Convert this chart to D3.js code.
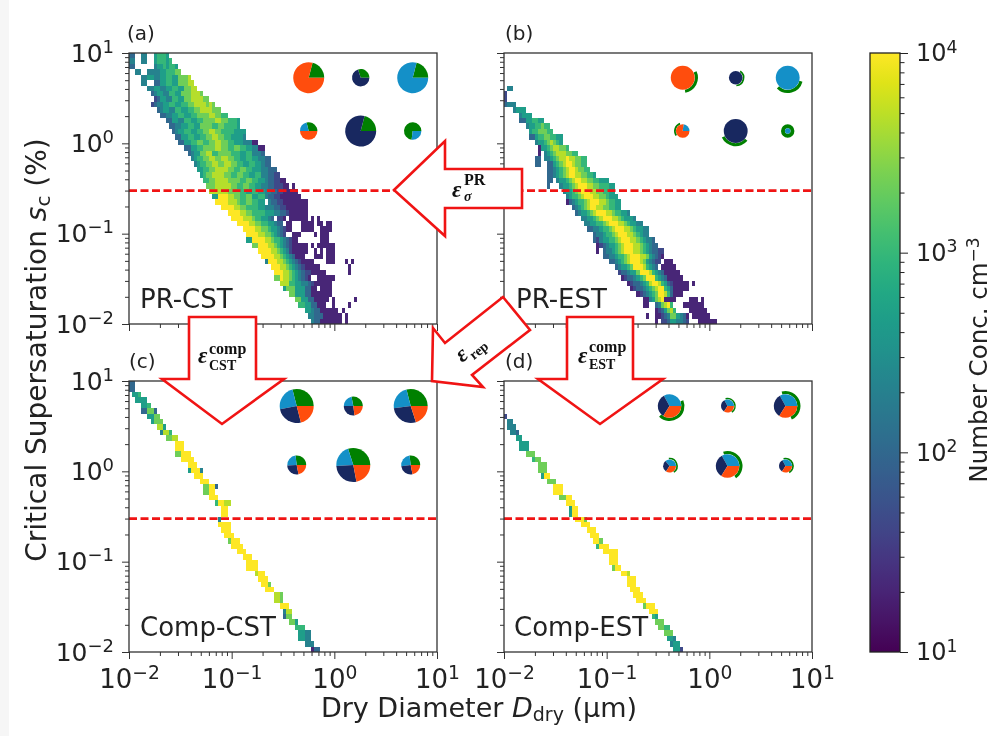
<!DOCTYPE html>
<html>
<head>
<meta charset="utf-8">
<script src="https://cdn.jsdelivr.net/npm/d3@7"></script>
<style>
html, body { margin: 0; padding: 0; background: #fff; }
text { font-family: "DejaVu Sans", sans-serif; fill: #222; }
</style>
</head>
<body>
<script>
// heat map cells. each row (top = 10%) is a list of "firstBin:levels"
// level 0-9 is an index into concLevels
var concLevels = [10, 21, 46, 100, 215, 464, 1000, 2150, 4640, 10000];

var rowsA = [
"0:33 4:44 8:56665",
"0:44 4:44 8:566656",
"0:33 8:45565665",
"2:44 6:44 8:445566677",
"4:4455445566557778",
"4:44 8:3355665577788",
"6:4455445566557788",
"7:34554466557778887",
"8:235544665577888877",
"7:234455665566778888787",
"9:345544665566778888777",
"10:3344556655667777887766",
"12:335544665566777788776665",
"13:33445566557777667766665",
"14:345566556677887766665555",
"15:33556655667788776655554",
"16:33556677667788776655544411",
"18:33556677778877667766554411",
"19:3455778866777766655664443",
"20:45667788778877665566554433",
"21:4566778877887766556655433",
"22:55667788887766776655544333",
"23:56778888776677665566443322",
"24:667788887777667766554332211",
"25:777888887766776655443322211 53:1",
"26:88888877776655665544332211111",
"27:55999887766775566433221111111",
"28:9999888766776655 45:4332211111111",
"30:9999887766665544433221111111",
"32:99998877666655544332111111",
"33:99998887665543 48:221 52:111111 59:1 61:1",
"35:999988776655433 51:11 56:11 58:11 61:11 64:11",
"37:99998877655432 51:11 56:1111 62:11 64:11",
"38:9999887765432 53:11 55:1 60:1 62:111",
"38:55 40:99998876654321 54:1 62:111",
"40:77 42:9998876543 52:211111 59:1 61:111 64:111",
"42:9999887654 52:211111 60:1 62:1 64:111",
"43:99998876543 54:111 60:111 64:111",
"44:4 45:99988765432 56:1111 64:111 70:1 72:1",
"46:999887654321 58:1111 71:1",
"47:99988765432211111 71:1",
"47:77 49:9887654321 61:111 64:111",
"49:888665544321111 64:11",
"50:5 51:777 54:555 57:33 59:11 62:11 64:11",
"52:77 54:555 57:33 59:11111 64:11",
"54:77 56:555 58:33 60:11111 66:1 73:1",
"55:66 57:55 59:33 61:111 66:1 71:1",
"57:55 59:4 60:33 62:111111 69:1",
"58:44 60:333 63:111111 70:1",
"59:433 62:1111111 70:1"
];

var rowsB = [
"", "", "", "", "", "",
"1:44",
"0:2",
"0:2",
"0:3444",
"3:4555",
"5:4555",
"5:33 7:556655",
"7:4 8:5566766",
"8:56677766",
"8:33 10:566776655",
"10:455678765",
"11:1 12:556788776",
"11:1 13:45678887766",
"10:33 13:44567889887766",
"10:33 14:3356789987766",
"14:33456789987766",
"14:3345678998877665",
"14:33 17:45567899887766555",
"14:3 18:455678999887766655",
"19:45567899988776655",
"20:45667899988776555",
"20:1 21:34566789998876655",
"22:3456789988776655",
"23:345567899988766554",
"25:445567899988765554",
"26:4455667899988765544",
"27:33445667899988765544",
"29:344566789998876544",
"29:32455667899988765443",
"30:12345567899988765433",
"30:1 32:34456789998876543322",
"32:33445667899988754321",
"34:33456789998754322 52:111",
"36:34556799986543 51:11111",
"37:23345579998654311111",
"38:12334567999654311111",
"40:12334568998653211111 61:1",
"41:1233456789965311111",
"43:123456799863111",
"45:11 47:45789 52:1111 60:111 64:1",
"45:11 49:347896 58:1111111",
"49:12 51:35786 60:111111",
"46:1 49:11 51:234 54:77 56:543 59:1 61:111111",
"49:1 51:2233 54:55 56:443 59:2 63:111111"
];

var rowsC = [
"0:33",
"0:33",
"1:556",
"2:55 4:55",
"4:556",
"4:33 6:77 8:3",
"6:55 8:77",
"7:5 8:777",
"9:888 11:5",
"10:4 11:88 13:6",
"12:77 14:88",
"15:999",
"15:999",
"15:77 17:999",
"17:9999",
"19:999",
"19:5 20:999 23:4",
"21:999",
"23:999",
"24:77 26:99 28:3",
"24:77 26:99",
"26:999",
"28:6 29:99 31:88",
"30:99",
"30:99",
"29:4",
"29:9999",
"30:999",
"31:999",
"32:7 33:999",
"33:9999",
"35:999",
"37:999",
"38:9999",
"38:9999",
"41:899",
"42:999",
"43:99 45:7",
"44:999",
"47:88 49:7",
"47:88 49:7",
"49:999",
"50:4 51:88",
"50:3 51:77",
"52:77 54:5",
"54:666",
"55:55 57:44",
"55:55 57:44",
"57:44 59:4",
"59:1 60:33 61:3"
];

var rowsD = [
"", "", "", "", "", "",
"0:2",
"1:44",
"1:44 3:4",
"2:44 4:3",
"4:55",
"5:55 7:5",
"5:55 7:5",
"7:777",
"9:6 10:77",
"11:777",
"11:777",
"12:5 13:99",
"14:77 16:7",
"16:999",
"16:999",
"18:77 20:99",
"20:999",
"21:5 22:99",
"21:5 22:99",
"23:999 26:7",
"25:999",
"27:999",
"28:999",
"29:99 31:7",
"30:6 31:99 33:9",
"32:99999",
"34:999",
"34:999",
"35:7 36:99",
"38:99 40:8",
"40:999",
"40:999",
"41:999",
"42:999",
"43:999",
"45:7 46:999",
"47:999",
"48:6 49:5",
"49:777",
"50:77 52:66",
"52:777",
"53:55 55:4",
"54:4 55:55",
"55:55 57:2"
];

// composition fractions of each inset pie, order green, blue, navy, orange
var piesA = [[.21,0,0,.79], [.3,0,.7,0], [.21,.79,0,0], [.29,.21,0,.5], [.21,0,.79,0], [.73,.27,0,0]];
var piesB = [[0,0,0,1], [0,0,1,0], [0,1,0,0], [0,.23,0,.77], [0,0,1,0], [0,1,0,0]];
var piesC = [[.29,.24,.26,.21], [.28,.22,.27,.23], [.29,.23,.28,.2], [.27,.24,.27,.22], [.3,.21,.27,.22], [.27,.25,.26,.22]];
var piesD = [[0,.33,.33,.34], [0,.33,.33,.34], [0,.33,.33,.34], [0,.36,.3,.34], [0,.33,.33,.34], [0,.33,.33,.34]];
// green outer arcs, degrees counter clockwise from east
var ringsB = [[25,-80], [55,-85], [-15,-135], [110,215], [205,320], [0,360]];
var ringsD = [[23,-134], [105,-55], [105,-65], [95,-55], [107,-55], [105,-60]];

var pieColors = ["#008000", "#1490c8", "#182860", "#ff4d0d"];
var xTickValues = [0.01, 0.1, 1, 10];
var yTickValues = [0.01, 0.1, 1, 10];
var colorTickValues = [10, 100, 1000, 10000];
var criticalS = 0.3;
var xBinCount = 100;
var yBinCount = 50;

var width = 1002;
var height = 736;

var svg = d3.select("body").append("svg")
	.attr("width", width)
	.attr("height", height)
	.style("display", "block")
	.style("filter", "blur(0.45px)");

svg.append("rect").attr("width", 9).attr("height", height).attr("fill", "#f6f6f6");

var panelW = 308;
var panelH = 271;

var color = d3.scaleSequentialLog(d3.interpolateViridis).domain([10, 10000]);
var x = d3.scaleLog().domain([0.01, 10]).range([0, panelW]);
var y = d3.scaleLog().domain([0.01, 10]).range([panelH, 0]);

var xEdges = d3.range(xBinCount + 1).map(function(i){ return Math.pow(10, -2 + 3 * i / xBinCount); });
var yEdges = d3.range(yBinCount + 1).map(function(i){ return Math.pow(10, 1 - 3 * i / yBinCount); });

var parseRows = function(rows){
	var cells = [];
	rows.forEach(function(row, r){
		if(!row) return;
		row.split(" ").forEach(function(seg){
			var p = seg.split(":");
			p[1].split("").forEach(function(ch, i){
				cells.push({ col: +p[0] + i, row: r, value: concLevels[+ch] });
			});
		});
	});
	return cells;
};

var isMajor = function(d){
	var e = Math.log10(d);
	return Math.abs(e - Math.round(e)) < 1e-6;
};

var powerLabel = function(sel){
	sel.each(function(d){
		var t = d3.select(this).text(null);
		var exp = String(Math.round(Math.log10(d))).replace("-", "\u2212");
		t.append("tspan").text("10");
		t.append("tspan").attr("dy", "-0.5em").attr("font-size", "0.72em").text(exp);
	});
};

var panels = [
	{ left: 129, top: 53, rows: rowsA, pies: piesA, rings: null, big: 15.5, small: 8.7, label: "(a)", name: "PR-CST", pieX: [179.7, 231.7, 283.7], pieY: [24.7, 78], showY: true, showX: false, labelX: -2, nameX: 11 },
	{ left: 504, top: 53, rows: rowsB, pies: piesB, rings: ringsB, big: 15.3, small: 8.7, label: "(b)", name: "PR-EST", pieX: [178.7, 231.7, 283.7], pieY: [24.7, 78], showY: false, showX: false, labelX: 1, nameX: 12 },
	{ left: 129, top: 381, rows: rowsC, pies: piesC, rings: null, big: 17, small: 9.5, label: "(c)", name: "Comp-CST", pieX: [167.7, 224.3, 281.7], pieY: [25, 84], showY: true, showX: true, labelX: 0, nameX: 11 },
	{ left: 504, top: 381, rows: rowsD, pies: piesD, rings: ringsD, big: 15, small: 8.3, label: "(d)", name: "Comp-EST", pieX: [165.5, 223.5, 281.5], pieY: [25, 85], showY: false, showX: true, labelX: 1, nameX: 10 }
];

var sizeOrder = ["big", "small", "big", "small", "big", "small"];

var pieLayout = d3.pie().sort(null).value(function(d){ return d; })
	.startAngle(Math.PI / 2).endAngle(Math.PI / 2 - 2 * Math.PI);

panels.forEach(function(p){
	var g = svg.append("g").attr("transform", "translate(" + p.left + "," + p.top + ")");

	g.selectAll("rect.cell").data(parseRows(p.rows))
		.enter()
		.append("rect")
		.attr("class", "cell")
		.attr("x", function(d){ return x(xEdges[d.col]); })
		.attr("y", function(d){ return y(yEdges[d.row]); })
		.attr("width", function(d){ return x(xEdges[d.col + 1]) - x(xEdges[d.col]); })
		.attr("height", function(d){ return y(yEdges[d.row + 1]) - y(yEdges[d.row]); })
		.attr("shape-rendering", "crispEdges")
		.attr("fill", function(d){ return color(d.value); });

	g.append("line")
		.attr("x1", 0).attr("x2", panelW)
		.attr("y1", y(criticalS)).attr("y2", y(criticalS))
		.attr("stroke", "#f01414")
		.attr("stroke-width", 2.8)
		.attr("stroke-dasharray", "8,3.5");

	// inset pies
	p.pies.forEach(function(frac, i){
		var rOuter = (sizeOrder[i] == "big") ? p.big : p.small;
		var pg = g.append("g")
			.attr("transform", "translate(" + p.pieX[i % 3] + "," + p.pieY[i < 3 ? 0 : 1] + ")");
		var rInner = rOuter;
		if(p.rings){
			rInner = rOuter * 0.78;
			if(p.name == "PR-EST" && i == 5){ rOuter = 6.7; rInner = 2.7; }
			var r0 = (p.name == "PR-EST" && i == 5) ? 2.8 : rInner + 0.2;
			var ring = p.rings[i];
			pg.append("path")
				.attr("d", d3.arc()({
					innerRadius: r0,
					outerRadius: rOuter,
					startAngle: (90 - ring[0]) * Math.PI / 180,
					endAngle: (90 - ring[1]) * Math.PI / 180
				}))
				.attr("fill", pieColors[0]);
		}
		var arc = d3.arc().innerRadius(0).outerRadius(rInner);
		pg.selectAll("path.slice").data(pieLayout(frac))
			.enter()
			.append("path")
			.attr("class", "slice")
			.attr("d", arc)
			.attr("fill", function(d, k){ return pieColors[k]; });
	});

	// ticks, minor first
	var minorX = x.ticks().filter(function(d){ return !isMajor(d); });
	var minorY = y.ticks().filter(function(d){ return !isMajor(d); });

	var gx = g.append("g").attr("transform", "translate(0," + panelH + ")");
	var gy = g.append("g");

	gx.call(d3.axisBottom(x).tickValues(minorX).tickFormat("").tickSize(4));
	gy.call(d3.axisLeft(y).tickValues(minorY).tickFormat("").tickSize(4));
	gx.selectAll(".domain").remove();
	gy.selectAll(".domain").remove();

	var gxM = g.append("g").attr("transform", "translate(0," + panelH + ")");
	var gyM = g.append("g");
	gxM.call(d3.axisBottom(x).tickValues(xTickValues).tickSize(7).tickPadding(11));
	gyM.call(d3.axisLeft(y).tickValues(yTickValues).tickSize(7).tickPadding(8));
	gxM.selectAll(".domain").remove();
	gyM.selectAll(".domain").remove();

	if(p.showX) gxM.selectAll("text").attr("font-size", 26).call(powerLabel);
	else gxM.selectAll("text").remove();
	if(p.showY) gyM.selectAll("text").attr("font-size", 25).call(powerLabel);
	else gyM.selectAll("text").remove();

	g.selectAll(".tick line").attr("stroke", "#333").attr("stroke-width", 1);

	g.append("rect")
		.attr("width", panelW).attr("height", panelH)
		.attr("fill", "none")
		.attr("stroke", "#333")
		.attr("stroke-width", 1.3);

	g.append("text")
		.attr("x", p.labelX).attr("y", -13)
		.attr("font-size", 20)
		.text(p.label);

	g.append("text")
		.attr("x", p.nameX).attr("y", 255)
		.attr("font-size", 26)
		.text(p.name);
});

// axis titles
var xTitle = svg.append("text")
	.attr("x", 479).attr("y", 717)
	.attr("text-anchor", "middle")
	.attr("font-size", 27);
xTitle.append("tspan").text("Dry Diameter ");
xTitle.append("tspan").attr("font-style", "italic").text("D");
xTitle.append("tspan").attr("font-size", 19).attr("dy", 4).text("dry");
xTitle.append("tspan").attr("dy", -4).text(" (\u03bcm)");

var yTitle = svg.append("text")
	.attr("transform", "translate(46,350) rotate(-90)")
	.attr("text-anchor", "middle")
	.attr("font-size", 28);
yTitle.append("tspan").text("Critical Supersaturation ");
yTitle.append("tspan").attr("font-style", "italic").text("s");
yTitle.append("tspan").attr("font-size", 20).attr("dy", 4).text("c");
yTitle.append("tspan").attr("dy", -4).text(" (%)");

// colorbar
var cbX = 870;
var cbW = 30;
var cbTop = 53;
var cbH = 599;
var cbScale = d3.scaleLog().domain([10, 10000]).range([cbH, 0]);

var defs = svg.append("defs");
var grad = defs.append("linearGradient")
	.attr("id", "cbGrad")
	.attr("x1", 0).attr("x2", 0).attr("y1", 1).attr("y2", 0);
d3.range(0, 1.0001, 0.05).forEach(function(t){
	grad.append("stop")
		.attr("offset", t)
		.attr("stop-color", d3.interpolateViridis(t));
});

var cb = svg.append("g").attr("transform", "translate(" + cbX + "," + cbTop + ")");
cb.append("rect")
	.attr("width", cbW).attr("height", cbH)
	.attr("fill", "url(#cbGrad)")
	.attr("stroke", "#222")
	.attr("stroke-width", 1.3);

var cbMinor = cb.append("g").attr("transform", "translate(" + cbW + ",0)");
cbMinor.call(d3.axisRight(cbScale)
	.tickValues(cbScale.ticks().filter(function(d){ return !isMajor(d); }))
	.tickFormat("").tickSize(4.5));
var cbMajor = cb.append("g").attr("transform", "translate(" + cbW + ",0)");
cbMajor.call(d3.axisRight(cbScale).tickValues(colorTickValues).tickSize(8).tickPadding(8));
cbMinor.selectAll(".domain").remove();
cbMajor.selectAll(".domain").remove();
cbMajor.selectAll("text").attr("font-size", 24).call(powerLabel);
cb.selectAll(".tick line").attr("stroke", "#222").attr("stroke-width", 1);

var cbTitle = svg.append("text")
	.attr("transform", "translate(987,360) rotate(-90)")
	.attr("text-anchor", "middle")
	.attr("font-size", 24.5);
cbTitle.append("tspan").text("Number Conc. cm");
cbTitle.append("tspan").attr("font-size", 17).attr("dy", -8).text("\u22123");

// red error arrows on top of everything
var arrows = [
	[[394,190],[445,141],[445,169],[522,169],[522,208],[445,208],[445,236]],
	[[189,317],[256,317],[256,379],[284,379],[222,424],[162,379],[189,379]],
	[[567,317],[633,317],[633,379],[663,379],[600,424],[538,379],[567,379]],
	[[432,381],[433,328],[445,343],[503,297],[530,330],[472,375],[483,387]]
];

svg.selectAll("polygon.arrow").data(arrows)
	.enter()
	.append("polygon")
	.attr("class", "arrow")
	.attr("points", function(d){ return d.join(" "); })
	.attr("fill", "#fff")
	.attr("stroke", "#f01414")
	.attr("stroke-width", 2.6)
	.attr("stroke-linejoin", "miter");

var eps = function(ex, ey, ox, supY, subY, sup, sub, parent){
	var target = parent || svg;
	var serif = "'Liberation Serif', serif";
	target.append("text").attr("x", ex).attr("y", ey)
		.attr("font-weight", "bold").attr("font-style", "italic")
		.attr("font-size", 23).style("font-family", serif).style("fill", "#111").text("\u03b5");
	if(sup) target.append("text").attr("x", ox).attr("y", supY)
		.attr("font-weight", "bold").attr("font-size", 16).style("font-family", serif).style("fill", "#111").text(sup);
	target.append("text").attr("x", ox).attr("y", subY)
		.attr("font-weight", "bold").attr("font-size", 14)
		.attr("font-style", sub == "\u03c3" ? "italic" : "normal")
		.style("font-family", serif).style("fill", "#111").text(sub);
};

eps(452, 197, 464, 185, 201, "PR", "\u03c3");
eps(198, 363, 209, 354, 370, "comp", "CST");
eps(578, 363, 589, 352, 369, "comp", "EST");
var repG = svg.append("g").attr("transform", "translate(462,363) rotate(-38)");
eps(0, 0, 11, null, 5, null, "rep", repG);
</script>
</body>
</html>
